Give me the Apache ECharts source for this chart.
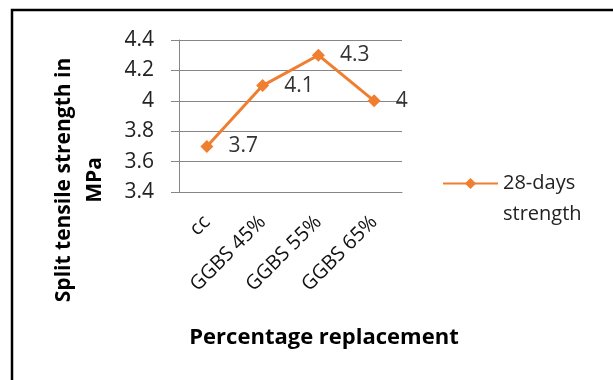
<!DOCTYPE html>
<html>
<head>
<meta charset="utf-8">
<script src="https://cdn.jsdelivr.net/npm/echarts@6/dist/echarts.min.js"></script>
<style>
  html, body { margin: 0; padding: 0; background: #fff; }
  #chart { width: 613px; height: 380px; }
</style>
</head>
<body>
<div id="chart"></div>
<script>
// Split tensile strength (28 days) by cement replacement level
const categories = ['cc', 'GGBS 45%', 'GGBS 55%', 'GGBS 65%'];
const strength28 = [3.7, 4.1, 4.3, 4.0];
const seriesName = '28-days\nstrength';
const yTitle = 'Split tensile strength in\nMPa';
const xTitle = 'Percentage replacement';

const ORANGE = '#F07E30';
const GRID = '#868686';
const FONT = '"Open Sans", "Liberation Sans", sans-serif';

const chart = echarts.init(document.getElementById('chart'));

chart.setOption({
  animation: false,
  backgroundColor: '#fff',
  grid: { left: 179, right: 211, top: 40, bottom: 188, containLabel: false },
  legend: {
    data: [seriesName],
    left: 437,
    top: 132,
    itemWidth: 55,
    itemHeight: 14,
    itemGap: 0,
    // a blank leading line keeps the first text line level with the legend icon
    formatter: name => '\u00a0\n' + name,
    textStyle: {
      fontFamily: FONT,
      fontSize: 20,
      color: '#222',
      lineHeight: 31
    }
  },
  xAxis: {
    type: 'category',
    data: categories,
    boundaryGap: true,
    axisLine: { show: true, lineStyle: { color: GRID, width: 1 } },
    axisTick: { show: false },
    axisLabel: {
      rotate: 45,
      margin: 27,
      fontFamily: FONT,
      fontSize: 20,
      color: '#111',
      interval: 0
    },
    splitLine: { show: false }
  },
  yAxis: {
    type: 'value',
    min: 3.4,
    max: 4.4,
    interval: 0.2,
    axisLine: { show: true, lineStyle: { color: GRID, width: 1 } },
    axisTick: { show: true, length: 8, lineStyle: { color: GRID } },
    axisLabel: {
      margin: 25,
      fontFamily: FONT,
      fontSize: 21,
      color: '#222',
      formatter: v => String(Math.round(v * 10) / 10)
    },
    splitLine: { show: true, lineStyle: { color: GRID, width: 1 } }
  },
  series: [{
    name: seriesName,
    type: 'line',
    data: strength28,
    symbol: 'diamond',
    symbolSize: 13,
    itemStyle: { color: ORANGE },
    lineStyle: { color: ORANGE, width: 3 },
    label: {
      show: true,
      position: 'right',
      distance: 15,
      fontFamily: FONT,
      fontSize: 21,
      color: '#333',
      formatter: p => String(p.value)
    }
  }],
  graphic: [
    {
      type: 'rect',
      shape: { x: 12, y: 10, width: 700, height: 500 },
      style: { fill: 'none', stroke: '#000', lineWidth: 2.5 },
      silent: true
    },
    {
      type: 'text',
      x: 80,
      y: 180,
      rotation: Math.PI / 2,
      style: {
        text: yTitle,
        fontFamily: FONT,
        fontSize: 21,
        fontWeight: 'bold',
        fill: '#000',
        align: 'center',
        verticalAlign: 'middle',
        lineHeight: 31
      }
    },
    {
      type: 'text',
      x: 324,
      y: 338,
      style: {
        text: xTitle,
        fontFamily: FONT,
        fontSize: 22,
        fontWeight: 'bold',
        fill: '#000',
        align: 'center',
        verticalAlign: 'middle'
      }
    }
  ]
});
</script>
</body>
</html>
